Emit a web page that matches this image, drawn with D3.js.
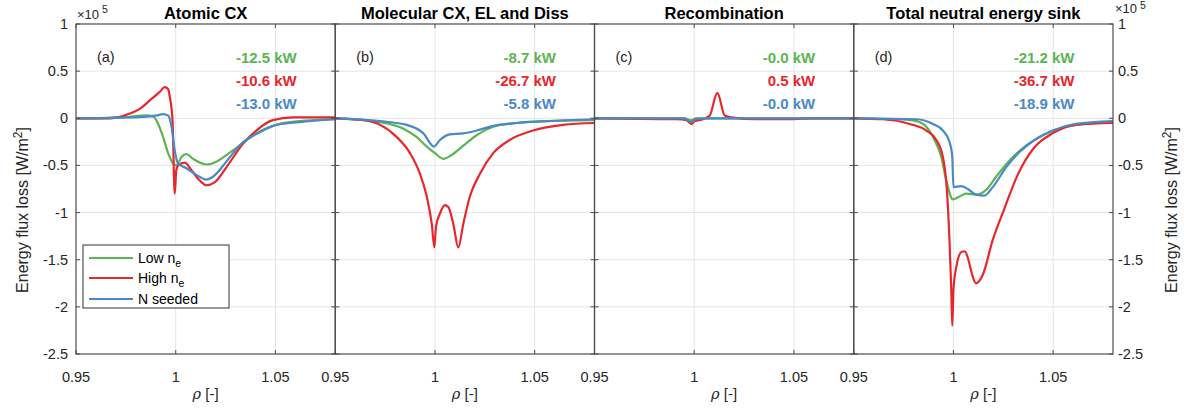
<!DOCTYPE html>
<html><head><meta charset="utf-8">
<script src="https://cdn.jsdelivr.net/npm/d3@7"></script>
<style>
html,body{margin:0;padding:0;background:#fff;}
svg{display:block;font-family:"Liberation Sans",Arial,sans-serif;}
</style></head>
<body><svg id="c" width="1184" height="413"></svg>
<script>
// ---------- data (y in units of 1e5 W/m^2) ----------
const panelTitles = ["Atomic CX", "Molecular CX, EL and Diss", "Recombination", "Total neutral energy sink"];
const panelTags = ["(a)", "(b)", "(c)", "(d)"];
const seriesNames = ["Low n", "High n", "N seeded"];
const seriesColors = ["#5db452", "#e8272d", "#4a89c7"];
const powerLow = ["-12.5 kW", "-8.7 kW", "-0.0 kW", "-21.2 kW"];
const powerHigh = ["-10.6 kW", "-26.7 kW", "0.5 kW", "-36.7 kW"];
const powerNseed = ["-13.0 kW", "-5.8 kW", "-0.0 kW", "-18.9 kW"];
const xTicks = [0.95, 1, 1.05];
const xTickLabels = ["0.95", "1", "1.05"];
const yTicks = [1, 0.5, 0, -0.5, -1, -1.5, -2, -2.5];
const yTickLabels = ["1", "0.5", "0", "-0.5", "-1", "-1.5", "-2", "-2.5"];

// panel (a) Atomic CX
const aLowX = [0.95, 0.965, 0.975, 0.9854, 0.9887, 0.9912, 0.9937, 0.9962, 0.9987, 1.0004, 1.0029, 1.0054, 1.0087, 1.0154, 1.0204, 1.0254, 1.032, 1.0404, 1.0504, 1.062, 1.08];
const aLowY = [0, 0.005, 0.015, 0.03, 0.02, -0.06, -0.20, -0.37, -0.48, -0.50, -0.41, -0.38, -0.43, -0.49, -0.46, -0.39, -0.29, -0.16, -0.07, -0.03, -0.01];
const aHighX = [0.95, 0.967, 0.977, 0.982, 0.987, 0.992, 0.9945, 0.9962, 0.997, 0.9984, 0.9995, 1.0003, 1.0012, 1.0045, 1.0079, 1.012, 1.0154, 1.0195, 1.0254, 1.0337, 1.0404, 1.0487, 1.0587, 1.08];
const aHighY = [0, 0, 0.05, 0.10, 0.19, 0.28, 0.33, 0.31, 0.23, -0.02, -0.80, -0.55, -0.50, -0.47, -0.55, -0.66, -0.71, -0.68, -0.52, -0.27, -0.13, -0.02, 0.01, 0.01];
const aNX = [0.95, 0.97, 0.9837, 0.9904, 0.9937, 0.9962, 0.9979, 0.9995, 1.0012, 1.0054, 1.0104, 1.0154, 1.0187, 1.0254, 1.0329, 1.042, 1.0504, 1.062, 1.08];
const aNY = [0, 0.005, 0.014, 0.03, 0.045, 0.03, -0.09, -0.34, -0.48, -0.53, -0.60, -0.65, -0.62, -0.46, -0.27, -0.15, -0.07, -0.04, -0.01];

// panel (b) Molecular CX, EL and Diss
const bLowX = [0.95, 0.9725, 0.9842, 0.9909, 0.9959, 1.0, 1.0042, 1.0084, 1.0142, 1.0209, 1.0292, 1.0409, 1.0559, 1.08];
const bLowY = [0, -0.04, -0.11, -0.20, -0.30, -0.37, -0.43, -0.39, -0.29, -0.18, -0.09, -0.05, -0.03, -0.02];
const bHighX = [0.95, 0.9642, 0.9725, 0.9809, 0.9875, 0.9925, 0.9959, 0.9984, 0.9997, 1.0005, 1.0025, 1.005, 1.0067, 1.0092, 1.0117, 1.0142, 1.0175, 1.0225, 1.0292, 1.0375, 1.0492, 1.0642, 1.08];
const bHighY = [0, -0.02, -0.07, -0.20, -0.37, -0.59, -0.83, -1.12, -1.37, -1.15, -1.01, -0.92, -0.94, -1.12, -1.37, -1.12, -0.83, -0.59, -0.37, -0.23, -0.13, -0.07, -0.05];
const bNX = [0.95, 0.9725, 0.9859, 0.9942, 0.9995, 1.0025, 1.0075, 1.0142, 1.0209, 1.0292, 1.0409, 1.0559, 1.08];
const bNY = [0, -0.03, -0.07, -0.16, -0.30, -0.23, -0.17, -0.16, -0.13, -0.08, -0.05, -0.03, -0.01];

// panel (c) Recombination
const cLowX = [0.95, 0.995, 0.9986, 1.001, 1.08];
const cLowY = [0, 0, -0.02, 0, 0];
const cHighX = [0.95, 0.9911, 0.9961, 0.9986, 1.0003, 1.0044, 1.0078, 1.0116, 1.0153, 1.0186, 1.0311, 1.0478, 1.06, 1.08];
const cHighY = [0, -0.01, -0.02, -0.06, -0.03, -0.01, 0.03, 0.27, 0.03, 0.01, -0.01, -0.01, 0, 0];
const cNX = [0.95, 0.995, 0.9986, 1.001, 1.01, 1.08];
const cNY = [0, 0, -0.04, -0.005, 0, 0];

// panel (d) Total neutral energy sink
const dLowX = [0.95, 0.973, 0.9814, 0.9864, 0.9905, 0.9939, 0.9964, 0.9997, 1.003, 1.0064, 1.0114, 1.0164, 1.0214, 1.028, 1.0364, 1.048, 1.0614, 1.08];
const dLowY = [0, -0.01, -0.03, -0.09, -0.23, -0.41, -0.66, -0.86, -0.83, -0.80, -0.81, -0.76, -0.62, -0.45, -0.29, -0.15, -0.07, -0.04];
const dHighX = [0.95, 0.9647, 0.978, 0.9864, 0.9914, 0.9947, 0.9967, 0.998, 0.9989, 0.9994, 1.0, 1.0014, 1.0039, 1.0055, 1.0114, 1.0147, 1.0197, 1.0255, 1.0322, 1.0405, 1.0497, 1.0614, 1.08];
const dHighY = [0, -0.01, -0.06, -0.13, -0.23, -0.41, -0.76, -1.29, -1.82, -2.20, -1.82, -1.58, -1.42, -1.41, -1.75, -1.66, -1.29, -0.96, -0.60, -0.31, -0.16, -0.07, -0.05];
const dNX = [0.95, 0.9814, 0.9897, 0.9947, 0.998, 0.9994, 1.0, 1.0039, 1.0072, 1.0114, 1.0155, 1.0197, 1.0264, 1.033, 1.0414, 1.0497, 1.0614, 1.08];
const dNY = [0, -0.01, -0.06, -0.13, -0.25, -0.41, -0.73, -0.72, -0.75, -0.81, -0.82, -0.73, -0.52, -0.36, -0.22, -0.13, -0.06, -0.03];

const panelSeries = [
  [[aLowX, aLowY], [aHighX, aHighY], [aNX, aNY]],
  [[bLowX, bLowY], [bHighX, bHighY], [bNX, bNY]],
  [[cLowX, cLowY], [cHighX, cHighY], [cNX, cNY]],
  [[dLowX, dLowY], [dHighX, dHighY], [dNX, dNY]]
];
const powers = [powerLow, powerHigh, powerNseed];

// ---------- layout ----------
const svg = d3.select("#c");
const plotL = 76, plotR = 1113, plotT = 24, plotB = 354;
const pw = (plotR - plotL) / 4;
const axisCol = "#4d4d4d", textCol = "#262626", gridCol = "#e5e5e5";
const y = d3.scaleLinear().domain([-2.5, 1]).range([plotB, plotT]);

panelSeries.forEach((series, p) => {
  const x0 = plotL + p * pw;
  const x = d3.scaleLinear().domain([0.95, 1.08]).range([x0, x0 + pw]);
  const g = svg.append("g");
  const clipId = "clip" + p;
  svg.append("clipPath").attr("id", clipId).append("rect")
    .attr("x", x0).attr("y", plotT).attr("width", pw).attr("height", plotB - plotT);

  // grid
  g.selectAll(".gx").data(xTicks.filter(t => t > 0.95)).enter().append("line")
    .attr("x1", d => x(d)).attr("x2", d => x(d)).attr("y1", plotT).attr("y2", plotB)
    .attr("stroke", gridCol).attr("stroke-width", 1);
  g.selectAll(".gy").data(yTicks.filter(t => t < 1 && t > -2.5)).enter().append("line")
    .attr("x1", x0).attr("x2", x0 + pw).attr("y1", d => y(d)).attr("y2", d => y(d))
    .attr("stroke", gridCol).attr("stroke-width", 1);

  // lines
  const line = d3.line().x(d => x(d[0])).y(d => y(d[1])).curve(d3.curveMonotoneX);
  series.forEach((s, i) => {
    const pts = s[0].map((xv, k) => [xv, s[1][k]]);
    g.append("path").datum(pts).attr("d", line)
      .attr("fill", "none").attr("stroke", seriesColors[i]).attr("stroke-width", 2.2)
      .attr("stroke-linejoin", "round").attr("clip-path", `url(#${clipId})`);
  });

  // box
  g.append("rect").attr("x", x0).attr("y", plotT).attr("width", pw).attr("height", plotB - plotT)
    .attr("fill", "none").attr("stroke", axisCol).attr("stroke-width", 1.2);

  // x ticks (inward, bottom and top)
  xTicks.forEach((t, k) => {
    g.append("line").attr("x1", x(t)).attr("x2", x(t)).attr("y1", plotB).attr("y2", plotB - 4)
      .attr("stroke", axisCol);
    g.append("line").attr("x1", x(t)).attr("x2", x(t)).attr("y1", plotT).attr("y2", plotT + 4)
      .attr("stroke", axisCol);
    g.append("text").attr("x", x(t)).attr("y", 382).attr("text-anchor", "middle")
      .attr("font-size", 14.5).attr("fill", textCol).text(xTickLabels[k]);
  });
  // y ticks (inward, left and right)
  yTicks.forEach(t => {
    g.append("line").attr("x1", x0).attr("x2", x0 + 4).attr("y1", y(t)).attr("y2", y(t)).attr("stroke", axisCol);
    g.append("line").attr("x1", x0 + pw).attr("x2", x0 + pw - 4).attr("y1", y(t)).attr("y2", y(t)).attr("stroke", axisCol);
  });

  // x label
  const xl = g.append("text").attr("x", x0 + pw / 2).attr("y", 399).attr("text-anchor", "middle")
    .attr("font-size", 15).attr("fill", textCol);
  xl.append("tspan").attr("font-style", "italic").attr("font-family", "DejaVu Serif, serif").attr("font-size", 14.5).text("ρ");
  xl.append("tspan").text(" [-]");

  // title
  g.append("text").attr("x", x0 + pw / 2).attr("y", 19).attr("text-anchor", "middle")
    .attr("font-size", 16.5).attr("font-weight", "bold").attr("fill", "#000").text(panelTitles[p]);

  // tag
  g.append("text").attr("x", x(0.9605)).attr("y", 62).attr("font-size", 14.5)
    .attr("fill", textCol).text(panelTags[p]);
  // power labels
  powers.forEach((arr, i) => {
    g.append("text").attr("x", x(1.0607)).attr("y", 63 + i * 23).attr("text-anchor", "end")
      .attr("font-size", 15).attr("font-weight", "bold").attr("fill", seriesColors[i]).text(arr[p]);
  });
});

// y tick labels left and right
yTicks.forEach((t, k) => {
  svg.append("text").attr("x", 68).attr("y", y(t) + 5).attr("text-anchor", "end")
    .attr("font-size", 14.5).attr("fill", textCol).text(yTickLabels[k]);
  svg.append("text").attr("x", plotR + 5).attr("y", y(t) + 5).attr("text-anchor", "start")
    .attr("font-size", 14.5).attr("fill", textCol).text(yTickLabels[k]);
});

// exponent labels
function expo(xp, yb, sup) {
  const t = svg.append("text").attr("x", xp).attr("y", yb).attr("font-size", 13).attr("fill", textCol);
  t.append("tspan").text("×10");
  t.append("tspan").attr("dy", sup).attr("dx", 3).attr("font-size", 10.5).text("5");
}
expo(77, 19, -6);
expo(1115, 13, -4);

// y labels
function ylab(xc, yc) {
  const t = svg.append("text").attr("transform", `translate(${xc},${yc}) rotate(-90)`)
    .attr("text-anchor", "middle").attr("font-size", 16).attr("fill", textCol);
  t.append("tspan").text("Energy flux loss [W/m");
  t.append("tspan").attr("dy", -6).attr("font-size", 12).text("2");
  t.append("tspan").attr("dy", 6).text("]");
}
ylab(28, 210);
ylab(1177, 210);

// legend
const lg = svg.append("g");
lg.append("rect").attr("x", 83).attr("y", 245).attr("width", 146).attr("height", 63)
  .attr("fill", "#fff").attr("stroke", "#333").attr("stroke-width", 1);
seriesNames.forEach((n, i) => {
  const yy = [258, 278, 299][i];
  lg.append("line").attr("x1", 89).attr("x2", 133).attr("y1", yy).attr("y2", yy)
    .attr("stroke", seriesColors[i]).attr("stroke-width", 2.2);
  const t = lg.append("text").attr("x", 138).attr("y", yy + 5).attr("font-size", 14).attr("fill", "#000");
  t.append("tspan").text(n);
  if (i < 2) t.append("tspan").attr("dy", 4).attr("font-size", 10.5).text("e");
});
</script></body></html>
